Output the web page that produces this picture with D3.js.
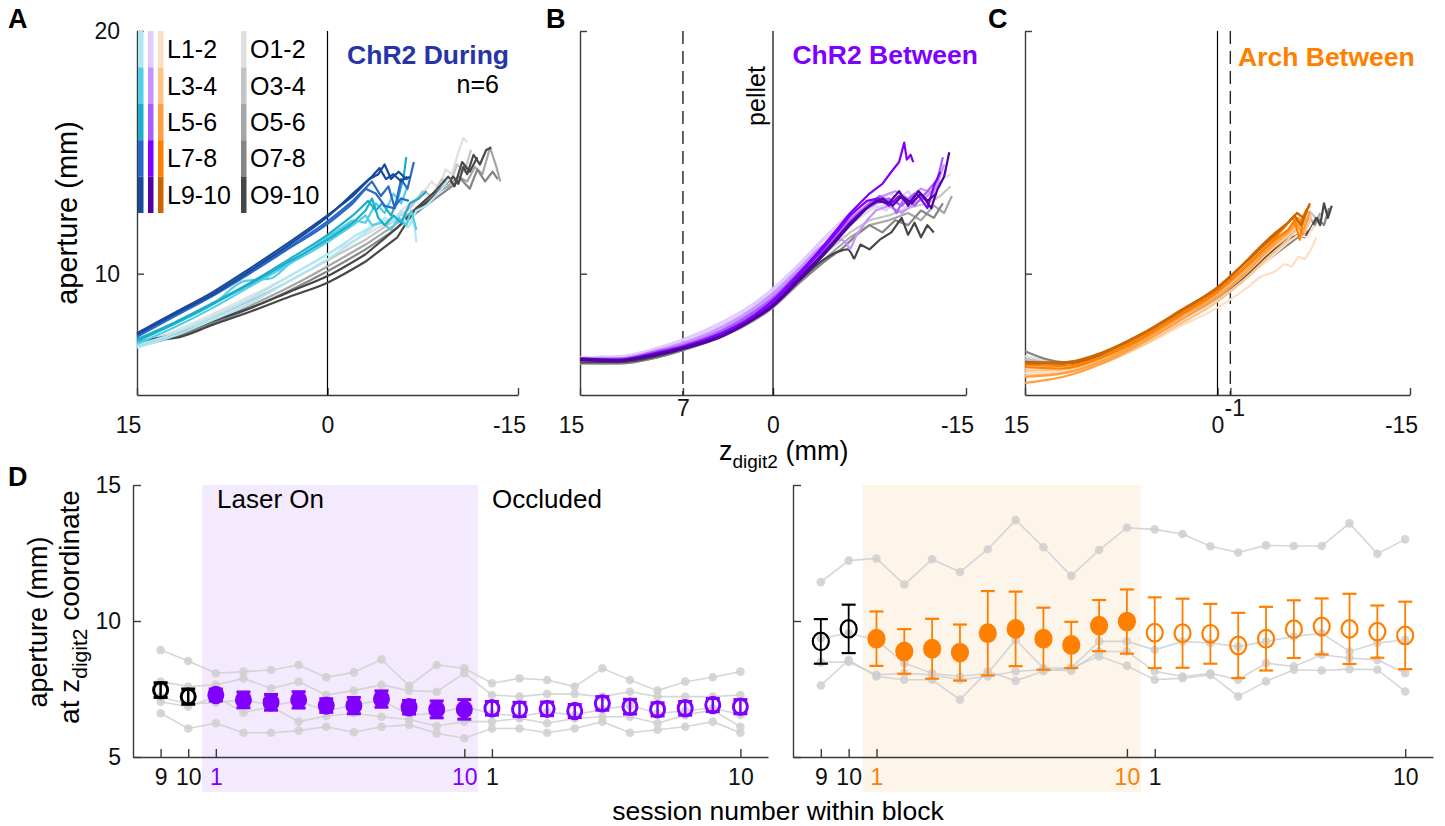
<!DOCTYPE html>
<html>
<head>
<meta charset="utf-8">
<script src="https://cdn.jsdelivr.net/npm/d3@7"></script>
<style>
  body { margin: 0; background: #fff; }
  text { font-family: "Liberation Sans", Arial, Helvetica, sans-serif; }
  .narrow { font-family: "Liberation Sans Narrow", "Liberation Sans", Arial, sans-serif; }
  .axis path, .axis line { stroke: #3a3a3a; stroke-width: 1.4; }
</style>
</head>
<body>
<div id="fig"></div>
<script>
// ---------- colours of the session pairs ----------
var blueCols = ["#aee8f4", "#52cfe6", "#1aaecb", "#2a68c8", "#174a9c"];
var purpleCols = ["#e0ccff", "#c693ff", "#aa5cff", "#8000ff", "#5200a3"];
var orangeCols = ["#ffdfc4", "#ffc488", "#ff9f3f", "#ff8000", "#cc6600"];
var grayCols = ["#e0e0e0", "#c4c4c4", "#a6a6a6", "#858585", "#474747"];
var legendLaser = ["L1-2", "L3-4", "L5-6", "L7-8", "L9-10"];
var legendOcc = ["O1-2", "O3-4", "O5-6", "O7-8", "O9-10"];

// ---------- panel A: aperture vs z_digit2, [z, aperture] per laser session 1..10 ----------
var laserA = [
  [[15,6.95],[12,7.45],[9,8.1],[6,8.8],[3,9.7],[0,10.6],[-2,11.3],[-3.5,11.9],[-4.5,12.3],[-5.2,12.1],[-5.8,12.6],[-6.3,11.9],[-6.8,12.2],[-7,11.3]],
  [[15,7.05],[12,7.55],[9,8.25],[6,9.0],[3,9.9],[0,10.8],[-2,11.5],[-4,12.1],[-5.5,12.3],[-6.5,12.1],[-7,12.6],[-7.8,12.8],[-8.5,13.2],[-9,13.5],[-9.6,13.9]],
  [[15,7.1],[12,7.8],[9,8.6],[6,9.5],[3,10.4],[0,11.3],[-2,12.0],[-3,12.4],[-3.5,12.0],[-4.3,12.1],[-5,11.8],[-5.6,12.3],[-6.2,12.0],[-6.6,12.6],[-7,11.8]],
  [[15,7.2],[12,7.95],[9,8.75],[6.5,9.7],[4.5,9.8],[3,10.4],[0,11.5],[-2,12.2],[-3,12.1],[-3.8,12.9],[-4.5,12.5],[-5.2,13.3],[-5.8,12.9],[-6.3,13.6]],
  [[15,7.3],[12,8.0],[9,8.8],[6,9.65],[3,10.6],[0,11.6],[-2,12.4],[-3.2,13.0],[-3.8,12.6],[-4.3,12.9],[-5,12.4],[-5.5,13.0],[-6,14.0],[-6.2,14.8]],
  [[15,7.25],[12,7.95],[9,8.75],[6,9.6],[3,10.5],[0,11.4],[-2,12.1],[-3,12.6],[-3.5,13.1],[-4,12.3],[-4.5,12.0],[-5.2,12.4],[-5.8,12.1],[-6.5,12.9],[-7.2,13.1],[-7.8,13.4]],
  [[15,7.45],[12,8.3],[9,9.15],[6,10.1],[3,11.1],[0,12.15],[-2,13.0],[-3.5,13.8],[-4.2,13.2],[-4.8,13.6],[-5.3,12.7],[-5.8,13.9],[-6.3,13.5],[-6.8,14.6]],
  [[15,7.4],[12,8.25],[9,9.1],[6,10.05],[3,11.05],[0,12.05],[-2,12.9],[-3,13.5],[-3.8,13.3],[-4.5,12.8],[-5.2,12.7],[-5.8,13.1],[-6.4,13.0]],
  [[15,7.5],[12,8.35],[9,9.15],[6,10.15],[3,11.2],[0,12.35],[-2,13.3],[-3.5,14.0],[-4.1,14.35],[-4.6,13.9],[-5.2,14.1],[-5.8,13.8],[-6.3,14.0]],
  [[15,7.55],[12,8.4],[9,9.25],[6,10.25],[3,11.3],[0,12.4],[-2,13.2],[-3.3,13.9],[-4,14.1],[-4.5,14.5],[-5,13.9],[-5.6,14.2],[-6.2,13.9],[-6.5,14.0]]
];
var occA = [
  [[15,7.1],[12,7.65],[9,8.35],[6,9.1],[3,9.9],[0,10.8],[-3,11.6],[-5,12.2],[-6.5,12.9],[-7.5,13.3],[-8.2,13.8],[-8.8,13.5],[-9.3,14.3],[-9.8,14.1],[-10.3,15.0],[-10.7,15.6],[-11.0,15.4]],
  [[15,7.05],[12,7.55],[9,8.2],[6,8.9],[3,9.7],[0,10.55],[-3,11.4],[-5,12.1],[-6.5,12.7],[-7.5,13.4],[-8.2,13.2],[-9,13.9],[-9.6,13.6],[-10.2,14.5],[-10.8,14.2],[-11.3,15.1]],
  [[15,7.15],[12,7.45],[9,8.0],[6,8.7],[3,9.45],[0,10.3],[-3,11.2],[-5,11.9],[-7,12.7],[-8.5,13.3],[-9.5,13.6],[-10.3,14.0],[-11,13.8],[-11.6,14.4],[-12.2,14.1],[-12.8,15.2],[-13.3,14.4],[-13.6,13.8]],
  [[15,7.0],[12,7.4],[9,7.95],[6,8.6],[3,9.3],[0,10.1],[-3,11.0],[-5,11.7],[-7,12.5],[-8.5,13.1],[-9.8,13.6],[-10.5,13.9],[-11.2,13.5],[-11.8,14.3],[-12.4,13.8],[-13,14.2],[-13.4,13.9]],
  [[13.2,7.3],[12,7.35],[9,7.9],[6,8.45],[3,9.05],[0,9.63],[-3,10.5],[-5.5,11.5],[-6.7,12.5],[-8.1,13.05],[-9.9,14.0],[-10.3,13.7],[-10.7,14.4],[-11,14.1],[-11.5,14.9],[-12,14.5],[-12.5,15.1],[-12.9,15.2]],
  [[15,7.2],[12,7.5],[9,8.05],[6,8.6],[3,9.25],[0,9.9],[-3,10.8],[-5.5,11.9],[-7,12.7],[-8.5,13.4],[-9.5,14.0],[-10,13.6],[-10.6,14.6],[-11.2,14.2],[-11.8,14.8]]
];
var occAPair = [0, 1, 2, 3, 4, 4];

// ---------- panel B ----------
var laserB = [
  [[15,6.55],[12,6.6],[9,6.95],[7,7.3],[4,8.0],[2,8.6],[0,9.4],[-2,10.4],[-4,11.5],[-6,12.5],[-7.5,13.0],[-8.3,12.9],[-9,13.3],[-9.8,13.1],[-10.5,13.4],[-11,13.0],[-11.5,13.4]],
  [[15,6.5],[12,6.55],[9,6.9],[7,7.25],[4,7.9],[2,8.5],[0,9.3],[-2,10.3],[-4,11.4],[-6,12.3],[-7,12.6],[-8,12.8],[-8.8,12.6],[-9.5,13.0],[-10.3,12.7],[-11,13.1],[-12,13.3],[-13,13.6],[-13.5,14.3]],
  [[15,6.5],[12,6.5],[9,6.85],[7,7.15],[4,7.8],[2,8.4],[0,9.2],[-2,10.2],[-4,11.2],[-5.3,11.4],[-6,11.0],[-6.5,11.6],[-7.3,12.2],[-8,12.6],[-9,12.8],[-10,12.5],[-11,12.9],[-12,13.2],[-13,13.8]],
  [[15,6.45],[12,6.45],[9,6.8],[7,7.1],[4,7.7],[2,8.3],[0,9.1],[-2,10.1],[-4,11.2],[-6,12.3],[-7.5,12.9],[-8.5,13.2],[-9.5,13.4],[-10.5,13.1],[-11.5,13.5],[-12.5,13.3],[-13.3,14.5]],
  [[15,6.45],[12,6.45],[9,6.8],[7,7.05],[4,7.65],[2,8.25],[0,9.0],[-2,10.05],[-4,11.1],[-6,12.2],[-7.5,12.9],[-8.3,13.2],[-9,13.0],[-9.6,12.5],[-10.2,13.1],[-11,12.8],[-12,13.4],[-12.8,13.9],[-13.2,14.8]],
  [[15,6.5],[12,6.5],[9,6.8],[7,7.05],[4,7.6],[2,8.2],[0,8.95],[-2,10.0],[-4,11.0],[-6,12.1],[-7,12.6],[-8,12.9],[-9,13.1],[-10,12.8],[-11,13.3],[-12,13.0]],
  [[15,6.5],[12,6.45],[9,6.75],[7,7.0],[4,7.55],[2,8.1],[0,8.9],[-2,10.0],[-4,11.2],[-6,12.5],[-7.5,13.3],[-8.5,13.7],[-9.2,14.2],[-9.8,14.6],[-10.2,15.4],[-10.4,14.7],[-10.7,14.9],[-10.9,14.6]],
  [[15,6.45],[12,6.4],[9,6.7],[7,6.95],[4,7.5],[2,8.05],[0,8.8],[-2,9.9],[-4,11.1],[-6,12.4],[-7.3,13.0],[-8.2,13.1],[-9,12.8],[-9.8,13.2],[-10.5,12.9],[-11.2,13.3],[-12,12.7],[-12.5,13.6],[-13,14.2]],
  [[15,6.45],[12,6.4],[9,6.65],[7,6.9],[4,7.4],[2,7.95],[0,8.65],[-2,9.7],[-4,10.8],[-6,12.0],[-7.5,12.8],[-8.5,13.1],[-9.3,12.8],[-10,13.2],[-10.8,12.9],[-11.5,13.3],[-12.3,12.7],[-12.8,13.5],[-13.3,14.0],[-13.7,15.0]],
  [[15,6.5],[12,6.45],[9,6.7],[7,6.95],[4,7.45],[2,8.0],[0,8.7],[-2,9.8],[-4,10.9],[-6,12.1],[-7,12.6],[-8,13.0],[-9,12.9],[-9.8,13.4],[-10.5,12.8],[-11.3,13.4],[-12,13.0],[-12.7,13.3]]
];
var occB = [
  [[15,6.4],[13,6.6],[12,6.4],[9,6.65],[7,6.95],[4,7.55],[2,8.1],[0,8.85],[-2,9.9],[-4,11.0],[-6,12.0],[-7.5,12.6],[-9,12.9],[-10.5,13.1],[-12,13.3],[-13,13.8],[-13.8,14.1]],
  [[15,6.35],[12,6.35],[9,6.6],[7,6.9],[4,7.45],[2,8.0],[0,8.7],[-2,9.7],[-4,10.8],[-6,11.7],[-7.5,12.2],[-9,12.4],[-10.5,12.7],[-12,12.9],[-13,13.2],[-13.8,13.6]],
  [[15,6.3],[12,6.3],[9,6.55],[7,6.85],[4,7.4],[2,7.9],[0,8.6],[-2,9.6],[-4,10.6],[-6,11.5],[-7.5,12.0],[-9,12.2],[-10.5,12.5],[-11.5,12.2],[-12.5,12.8],[-13.3,12.5],[-13.9,13.2]],
  [[15,6.3],[12,6.3],[9,6.55],[7,6.85],[4,7.4],[2,7.95],[0,8.65],[-2,9.6],[-4,10.5],[-5.5,11.1],[-6.5,11.6],[-7.5,12.0],[-8.5,11.7],[-9.5,12.2],[-10.5,12.0],[-11.5,12.6],[-12.5,12.3],[-13.2,12.9]],
  [[15,6.35],[12,6.35],[9,6.6],[7,6.9],[4,7.45],[2,8.0],[0,8.7],[-2,9.7],[-4,10.6],[-5.8,11.0],[-6.3,10.6],[-6.8,11.2],[-7.5,11.0],[-8.3,11.4],[-9.2,11.7],[-10,12.3],[-10.5,11.6],[-11,12.1],[-11.5,11.5],[-12,12.0],[-12.5,11.7]]
];
var occBPair = [0, 1, 2, 3, 4];

// ---------- panel C ----------
var laserC = [
  [[15,5.9],[12,5.95],[9,6.35],[6,7.0],[3,7.8],[0,8.6],[-2,9.3],[-3.5,9.9],[-4.5,10.1],[-5.2,10.4],[-5.8,10.3],[-6.3,10.7],[-6.8,10.6],[-7.3,11.0],[-7.7,11.5]],
  [[15,6.1],[12,6.05],[9,6.45],[6,7.15],[3,8.0],[0,8.9],[-2,9.7],[-4,10.6],[-5.5,11.3],[-6.3,11.6],[-7,11.5],[-7.5,12.0]],
  [[15,5.8],[12,5.9],[9,6.3],[6,7.0],[3,7.9],[0,8.85],[-2,9.7],[-4,10.7],[-5.5,11.4],[-6.3,11.9],[-6.8,11.7],[-7.3,12.3]],
  [[15,6.0],[12,6.05],[9,6.5],[6,7.2],[3,8.1],[0,9.05],[-2,9.9],[-4,10.9],[-5.5,11.6],[-6.3,12.0],[-6.9,11.8],[-7.3,12.4]],
  [[15,5.5],[12,5.75],[9,6.3],[6,7.1],[3,8.05],[0,9.05],[-2,9.95],[-4,11.0],[-5.5,11.7],[-6.2,12.1],[-6.6,11.6],[-7,12.3]],
  [[15,5.75],[12,5.9],[9,6.4],[6,7.2],[3,8.2],[0,9.2],[-2,10.1],[-4,11.1],[-5.5,11.8],[-6.3,12.3],[-6.8,12.0],[-7.2,12.6]],
  [[15,6.25],[12,6.2],[9,6.6],[6,7.35],[3,8.3],[0,9.3],[-2,10.2],[-4,11.2],[-5.5,11.8],[-6,12.2],[-6.4,11.4],[-6.6,12.0],[-6.9,12.6],[-7.2,12.8]],
  [[15,6.15],[12,6.1],[9,6.55],[6,7.3],[3,8.25],[0,9.25],[-2,10.2],[-4,11.2],[-5.2,11.9],[-5.8,12.3],[-6.4,12.1],[-7,12.7]],
  [[15,6.35],[12,6.35],[9,6.75],[6,7.5],[3,8.45],[0,9.45],[-2,10.4],[-4,11.45],[-5.5,12.1],[-6.2,12.5],[-6.7,12.3],[-7.2,12.9]],
  [[15,6.3],[12,6.3],[9,6.7],[6,7.45],[3,8.4],[0,9.4],[-2,10.35],[-4,11.35],[-5.3,12.0],[-6,12.4],[-6.5,12.0],[-7,12.6]]
];
var occC = [
  [[15,6.6],[13,6.4],[12,6.35],[9,6.65],[6,7.3],[3,8.2],[0,9.1],[-2,10.0],[-4,11.0],[-5.5,11.6],[-6.5,12.1],[-7.3,12.3]],
  [[15,6.5],[12,6.3],[9,6.6],[6,7.25],[3,8.1],[0,9.0],[-2,9.9],[-4,10.9],[-5.5,11.5],[-6.5,12.0],[-7.3,12.5],[-7.8,12.2]],
  [[15,6.4],[12,6.3],[9,6.6],[6,7.2],[3,8.05],[0,8.95],[-2,9.8],[-4,10.7],[-5.5,11.4],[-6.5,11.6],[-7.2,12.3],[-7.6,12.0],[-8,12.5]],
  [[15,6.8],[13.5,6.5],[12,6.35],[9,6.6],[6,7.2],[3,8.0],[0,8.9],[-2,9.75],[-4,10.6],[-5.5,11.2],[-6.5,11.6],[-7.3,11.8],[-7.8,12.3],[-8.3,12.0],[-8.7,12.7]],
  [[15,6.35],[12,6.3],[9,6.6],[6,7.25],[3,8.1],[0,9.05],[-2,9.85],[-4,10.8],[-5.5,11.4],[-6.3,11.6],[-6.8,11.5],[-7.3,11.9],[-7.7,12.3],[-8,12.0],[-8.3,12.9],[-8.6,12.3],[-8.9,12.8]]
];
var occCPair = [0, 1, 2, 3, 4];

// ---------- panel D: aperture at the z coordinate, per session ----------
// session order along x: pre 9, pre 10, laser 1..10, occluded 1..10
var sessionTicks = [1, 2, 3, 12, 13, 22];
var sessionLabels = ["9", "10", "1", "10", "1", "10"];

var preMeanL = [7.46, 7.22];
var preErrL = [0.27, 0.28];
var laserMeanL = [7.28, 7.10, 7.01, 7.10, 6.89, 6.89, 7.13, 6.83, 6.75, 6.75];
var laserErrL = [0.22, 0.29, 0.29, 0.30, 0.25, 0.30, 0.30, 0.25, 0.31, 0.36];
var occMeanL = [6.79, 6.75, 6.77, 6.69, 6.97, 6.85, 6.75, 6.79, 6.91, 6.85];
var occErrL = [0.25, 0.26, 0.25, 0.24, 0.25, 0.27, 0.24, 0.25, 0.24, 0.26];
var ratsL = [
  [8.93, 8.53, 8.08, 8.14, 8.20, 8.38, 7.93, 8.11, 8.59, 7.62, 8.38, 8.26, 7.71, 7.89, 7.83, 7.59, 8.26, 7.83, 7.44, 7.77, 7.93, 8.14],
  [7.77, 7.59, 7.65, 7.89, 7.52, 7.77, 7.28, 7.44, 7.65, 7.44, 7.40, 8.08, 7.28, 7.22, 7.32, 7.32, 7.22, 7.40, 7.22, 7.22, 7.22, 7.28],
  [7.20, 6.95, 7.00, 7.10, 6.90, 7.05, 6.70, 6.90, 7.10, 6.55, 6.60, 6.85, 6.60, 6.50, 6.65, 6.55, 6.75, 6.90, 6.60, 6.70, 6.80, 6.55],
  [7.03, 6.85, 7.22, 6.63, 6.85, 6.30, 6.51, 6.61, 6.48, 6.38, 6.14, 6.30, 6.30, 6.42, 6.24, 6.42, 6.48, 6.48, 6.24, 6.54, 6.73, 6.11],
  [6.61, 6.05, 6.24, 5.89, 5.89, 5.97, 6.11, 5.91, 6.11, 6.18, 5.87, 5.69, 6.05, 6.05, 5.89, 6.05, 6.30, 5.89, 6.00, 6.11, 6.30, 5.89]
];

var preMeanR = [9.25, 9.71];
var preErrR = [0.82, 0.89];
var laserMeanR = [9.35, 8.88, 8.98, 8.84, 9.55, 9.71, 9.35, 9.12, 9.83, 9.98];
var laserErrR = [1.0, 0.82, 1.1, 1.03, 1.55, 1.37, 1.14, 0.85, 0.94, 1.18];
var occMeanR = [9.57, 9.55, 9.53, 9.10, 9.35, 9.70, 9.80, 9.71, 9.61, 9.47];
var occErrR = [1.3, 1.27, 1.1, 1.2, 1.17, 1.06, 1.03, 1.29, 0.96, 1.24];
var ratsR = [
  [11.43, 12.22, 12.30, 11.34, 12.27, 11.80, 12.64, 13.71, 12.71, 11.66, 12.61, 13.43, 13.37, 13.20, 12.75, 12.52, 12.78, 12.76, 12.76, 13.59, 12.47, 13.00],
  [9.37, 9.55, 9.31, 8.45, 8.08, 7.96, 8.08, 9.31, 8.27, 8.27, 9.25, 9.25, 8.94, 9.25, 9.19, 9.06, 9.25, 9.43, 9.55, 8.88, 9.19, 9.31],
  [8.48, 8.49, 8.02, 8.08, 8.02, 7.84, 7.96, 8.15, 8.21, 8.17, 8.88, 8.88, 8.15, 7.96, 8.08, 7.84, 8.45, 8.33, 8.76, 8.64, 8.57, 8.08],
  [7.63, 8.57, 7.96, 7.84, 7.84, 7.11, 8.15, 7.80, 8.15, 8.27, 8.70, 8.35, 7.84, 7.90, 8.02, 7.23, 7.78, 8.21, 8.18, 8.23, 8.21, 7.41]
];

// ================= drawing =================
var svg = d3.select("#fig").append("svg")
  .attr("width", 1445)
  .attr("height", 826);

var yKin = d3.scaleLinear().domain([5, 20]).range([395, 31]);

function kinPanel(x0, x1, laser, occ, occPair, laserCols, opt) {
  var x = d3.scaleLinear().domain([15, -15]).range([x0, x1]);
  var g = svg.append("g");

  // bottom axis
  var xa = g.append("g").attr("class", "axis")
    .attr("transform", "translate(0," + yKin(5) + ")")
    .call(d3.axisBottom(x).tickValues(opt.xticks).tickSizeInner(-7).tickSizeOuter(0)
      .tickFormat(function(d) { return d; }));
  xa.selectAll("text")
    .attr("y", function(d) { return opt.raised.indexOf(d) >= 0 ? 5 : 22; })
    .attr("dx", function(d) { return Math.abs(d) === 15 ? -9 : (opt.raised.indexOf(d) >= 0 && d < 0 ? 4 : 0); })
    .attr("font-size", 23).attr("fill", "#111");

  // left axis
  var ya = g.append("g").attr("class", "axis")
    .attr("transform", "translate(" + x0 + ",0)")
    .call(d3.axisLeft(yKin).tickValues([10, 20]).tickSizeInner(-7).tickSizeOuter(0)
      .tickFormat(opt.showY ? function(d) { return d; } : ""));
  ya.selectAll("text").attr("x", -17).attr("font-size", 23).attr("fill", "#111");

  // reference lines
  g.append("line")
    .attr("x1", x(0)).attr("x2", x(0))
    .attr("y1", yKin(20)).attr("y2", yKin(5))
    .attr("stroke", "#000").attr("stroke-width", 1.2);
  if (opt.dashAt !== undefined) {
    g.append("line")
      .attr("x1", x(opt.dashAt)).attr("x2", x(opt.dashAt))
      .attr("y1", yKin(20)).attr("y2", yKin(5))
      .attr("stroke", "#222").attr("stroke-width", 1.4)
      .attr("stroke-dasharray", "13,7");
  }

  // smooth body of each reach, raw jagged tail after opt.tailZ
  var smooth = d3.line().curve(d3.curveMonotoneX)
    .x(function(d) { return x(d[0]); })
    .y(function(d) { return yKin(d[1]); });
  var raw = d3.line()
    .x(function(d) { return x(d[0]); })
    .y(function(d) { return yKin(d[1]); });
  function reachPath(pts) {
    var k = pts.findIndex(function(p) { return p[0] <= opt.tailZ; });
    if (k < 1) return smooth(pts);
    return smooth(pts.slice(0, k + 1)) + raw(pts.slice(k));
  }

  g.selectAll(".occ").data(occ).enter().append("path")
    .attr("d", reachPath)
    .attr("fill", "none")
    .attr("stroke", function(d, i) { return grayCols[occPair[i]]; })
    .attr("stroke-width", 2.2)
    .attr("stroke-linejoin", "round");

  g.selectAll(".las").data(laser).enter().append("path")
    .attr("d", reachPath)
    .attr("fill", "none")
    .attr("stroke", function(d, i) { return laserCols[Math.floor(i / 2)]; })
    .attr("stroke-width", 2.2)
    .attr("stroke-linejoin", "round");

  return { x: x, g: g };
}

var pA = kinPanel(137, 518, laserA, occA, occAPair, blueCols, { xticks: [15, 0, -15], raised: [], showY: true, tailZ: -2 });
var pB = kinPanel(580, 966, laserB, occB, occBPair, purpleCols, { xticks: [15, 7, 0, -15], raised: [7], showY: false, dashAt: 7, tailZ: -6 });
var pC = kinPanel(1025, 1410, laserC, occC, occCPair, orangeCols, { xticks: [15, 0, -1, -15], raised: [-1], showY: false, dashAt: -1, tailZ: -5.2 });

// legend inside panel A
var segH = 36.4;
[blueCols, purpleCols, orangeCols].forEach(function(cols, c) {
  svg.selectAll(".lg" + c).data(cols).enter().append("rect")
    .attr("x", 138 + c * 10).attr("width", 5.5)
    .attr("y", function(d, i) { return 31 + i * segH; })
    .attr("height", segH)
    .attr("fill", function(d) { return d; });
});
svg.selectAll(".lgO").data(grayCols).enter().append("rect")
  .attr("x", 241).attr("width", 5.5)
  .attr("y", function(d, i) { return 31 + i * segH; })
  .attr("height", segH)
  .attr("fill", function(d) { return d; });
svg.selectAll(".lgLt").data(legendLaser).enter().append("text")
  .attr("x", 167).attr("y", function(d, i) { return 31 + i * segH + segH / 2 + 9; })
  .attr("font-size", 25).text(function(d) { return d; });
svg.selectAll(".lgOt").data(legendOcc).enter().append("text")
  .attr("x", 250).attr("y", function(d, i) { return 31 + i * segH + segH / 2 + 9; })
  .attr("font-size", 25).text(function(d) { return d; });

// panel titles
svg.append("text").attr("x", 509).attr("y", 64).attr("text-anchor", "end")
  .attr("font-size", 26.5).attr("font-weight", "bold").attr("fill", "#2535a8").text("ChR2 During");
svg.append("text").attr("x", 499).attr("y", 93).attr("text-anchor", "end")
  .attr("font-size", 25).text("n=6");
svg.append("text").attr("x", 978).attr("y", 64).attr("text-anchor", "end")
  .attr("font-size", 26.5).attr("font-weight", "bold").attr("fill", "#8000ff").text("ChR2 Between");
svg.append("text").attr("x", 1238).attr("y", 66)
  .attr("font-size", 26.5).attr("font-weight", "bold").attr("fill", "#ff8000").text("Arch Between");
svg.append("text").attr("transform", "translate(765,96) rotate(-90)")
  .attr("text-anchor", "middle").attr("font-size", 25).text("pellet");

// axis labels
svg.append("text").attr("transform", "translate(77,213) rotate(-90)")
  .attr("text-anchor", "middle").attr("font-size", 29).text("aperture (mm)");
var xl = svg.append("text").attr("x", 719).attr("y", 460).attr("font-size", 27);
xl.append("tspan").text("z");
xl.append("tspan").attr("font-size", 19).attr("dy", 8).text("digit2");
xl.append("tspan").attr("dy", -8).text(" (mm)");

// panel letters
[["A", 8, 28], ["B", 546, 28], ["C", 988, 28], ["D", 8, 486]].forEach(function(p) {
  svg.append("text").attr("x", p[1]).attr("y", p[2])
    .attr("font-size", 27).attr("font-weight", "bold").text(p[0]);
});

// ---------- panel D ----------
var yD = d3.scaleLinear().domain([5, 15]).range([757, 485]);

function sessionPanel(x0, x1, opt) {
  var x = d3.scaleLinear().domain([0, 23]).range([x0, x1]);
  var g = svg.append("g");

  g.append("rect")
    .attr("x", x(2.5)).attr("width", x(12.5) - x(2.5))
    .attr("y", yD(15)).attr("height", 792 - yD(15))
    .attr("fill", opt.shade);

  var xa = g.append("g").attr("class", "axis")
    .attr("transform", "translate(0," + yD(5) + ")")
    .call(d3.axisBottom(x).tickValues(sessionTicks).tickSizeInner(-8).tickSizeOuter(0)
      .tickFormat(function(d, i) { return sessionLabels[i]; }));
  xa.selectAll("text")
    .attr("y", 12).attr("font-size", 23).attr("class", "narrow")
    .attr("fill", function(d) { return (d === 3 || d === 12) ? opt.color : "#111"; });

  var ya = g.append("g").attr("class", "axis")
    .attr("transform", "translate(" + x0 + ",0)")
    .call(d3.axisLeft(yD).tickValues([5, 10, 15]).tickSizeInner(-8).tickSizeOuter(0)
      .tickFormat(opt.showY ? function(d) { return d; } : ""));
  ya.selectAll("text").attr("x", -12).attr("font-size", 23).attr("class", "narrow").attr("fill", "#111");

  // individual animals
  var line = d3.line()
    .x(function(d, i) { return x(i + 1); })
    .y(function(d) { return yD(d); });
  opt.rats.forEach(function(r) {
    g.append("path").attr("d", line(r))
      .attr("fill", "none").attr("stroke", "#cfcfcf").attr("stroke-width", 1.6)
      .attr("opacity", 0.85);
    g.selectAll(null).data(r).enter().append("circle")
      .attr("cx", function(d, i) { return x(i + 1); })
      .attr("cy", function(d) { return yD(d); })
      .attr("r", 4.3).attr("fill", "#cfcfcf").attr("opacity", 0.85);
  });

  // group means with error bars
  var groups = [
    { m: opt.preMean, e: opt.preErr, start: 1, col: "#000", filled: false },
    { m: opt.laserMean, e: opt.laserErr, start: 3, col: opt.color, filled: true },
    { m: opt.occMean, e: opt.occErr, start: 13, col: opt.color, filled: false }
  ];
  groups.forEach(function(gr) {
    gr.m.forEach(function(v, i) {
      var cx = x(gr.start + i);
      var lo = yD(v - gr.e[i]), hi = yD(v + gr.e[i]);
      g.append("line").attr("x1", cx).attr("x2", cx).attr("y1", lo).attr("y2", hi)
        .attr("stroke", gr.col).attr("stroke-width", opt.ew);
      [lo, hi].forEach(function(yy) {
        g.append("line").attr("x1", cx - opt.cap).attr("x2", cx + opt.cap)
          .attr("y1", yy).attr("y2", yy)
          .attr("stroke", gr.col).attr("stroke-width", opt.capW);
      });
      g.append("ellipse").attr("cx", cx).attr("cy", yD(v))
        .attr("rx", opt.r).attr("ry", opt.r * 1.1)
        .attr("fill", gr.filled ? gr.col : "none")
        .attr("stroke", gr.col).attr("stroke-width", opt.cw);
    });
  });
  return x;
}

var xDL = sessionPanel(133, 768, {
  shade: "#f3ebfd", color: "#8000ff", showY: true, rats: ratsL,
  preMean: preMeanL, preErr: preErrL, laserMean: laserMeanL, laserErr: laserErrL,
  occMean: occMeanL, occErr: occErrL, r: 7, cw: 3, ew: 2.5, cap: 7, capW: 3
});
var xDR = sessionPanel(793, 1433, {
  shade: "#fdf4ea", color: "#ff8000", showY: false, rats: ratsR,
  preMean: preMeanR, preErr: preErrR, laserMean: laserMeanR, laserErr: laserErrR,
  occMean: occMeanR, occErr: occErrR, r: 8, cw: 2.2, ew: 1.8, cap: 7, capW: 2.2
});

svg.append("text").attr("x", 217).attr("y", 508).attr("class", "narrow")
  .attr("font-size", 26).text("Laser On");
svg.append("text").attr("x", 492).attr("y", 508).attr("class", "narrow")
  .attr("font-size", 26).text("Occluded");

svg.append("text").attr("x", 778).attr("y", 820).attr("text-anchor", "middle")
  .attr("font-size", 26.5).text("session number within block");

// two-line y label of D
svg.append("text").attr("transform", "translate(47,622) rotate(-90)")
  .attr("text-anchor", "middle").attr("font-size", 27).text("aperture (mm)");
var yl2 = svg.append("text").attr("transform", "translate(79,607) rotate(-90)")
  .attr("text-anchor", "middle").attr("font-size", 28);
yl2.append("tspan").text("at z");
yl2.append("tspan").attr("font-size", 21).attr("dy", 8).text("digit2");
yl2.append("tspan").attr("dy", -8).text(" coordinate");
</script>
</body>
</html>
